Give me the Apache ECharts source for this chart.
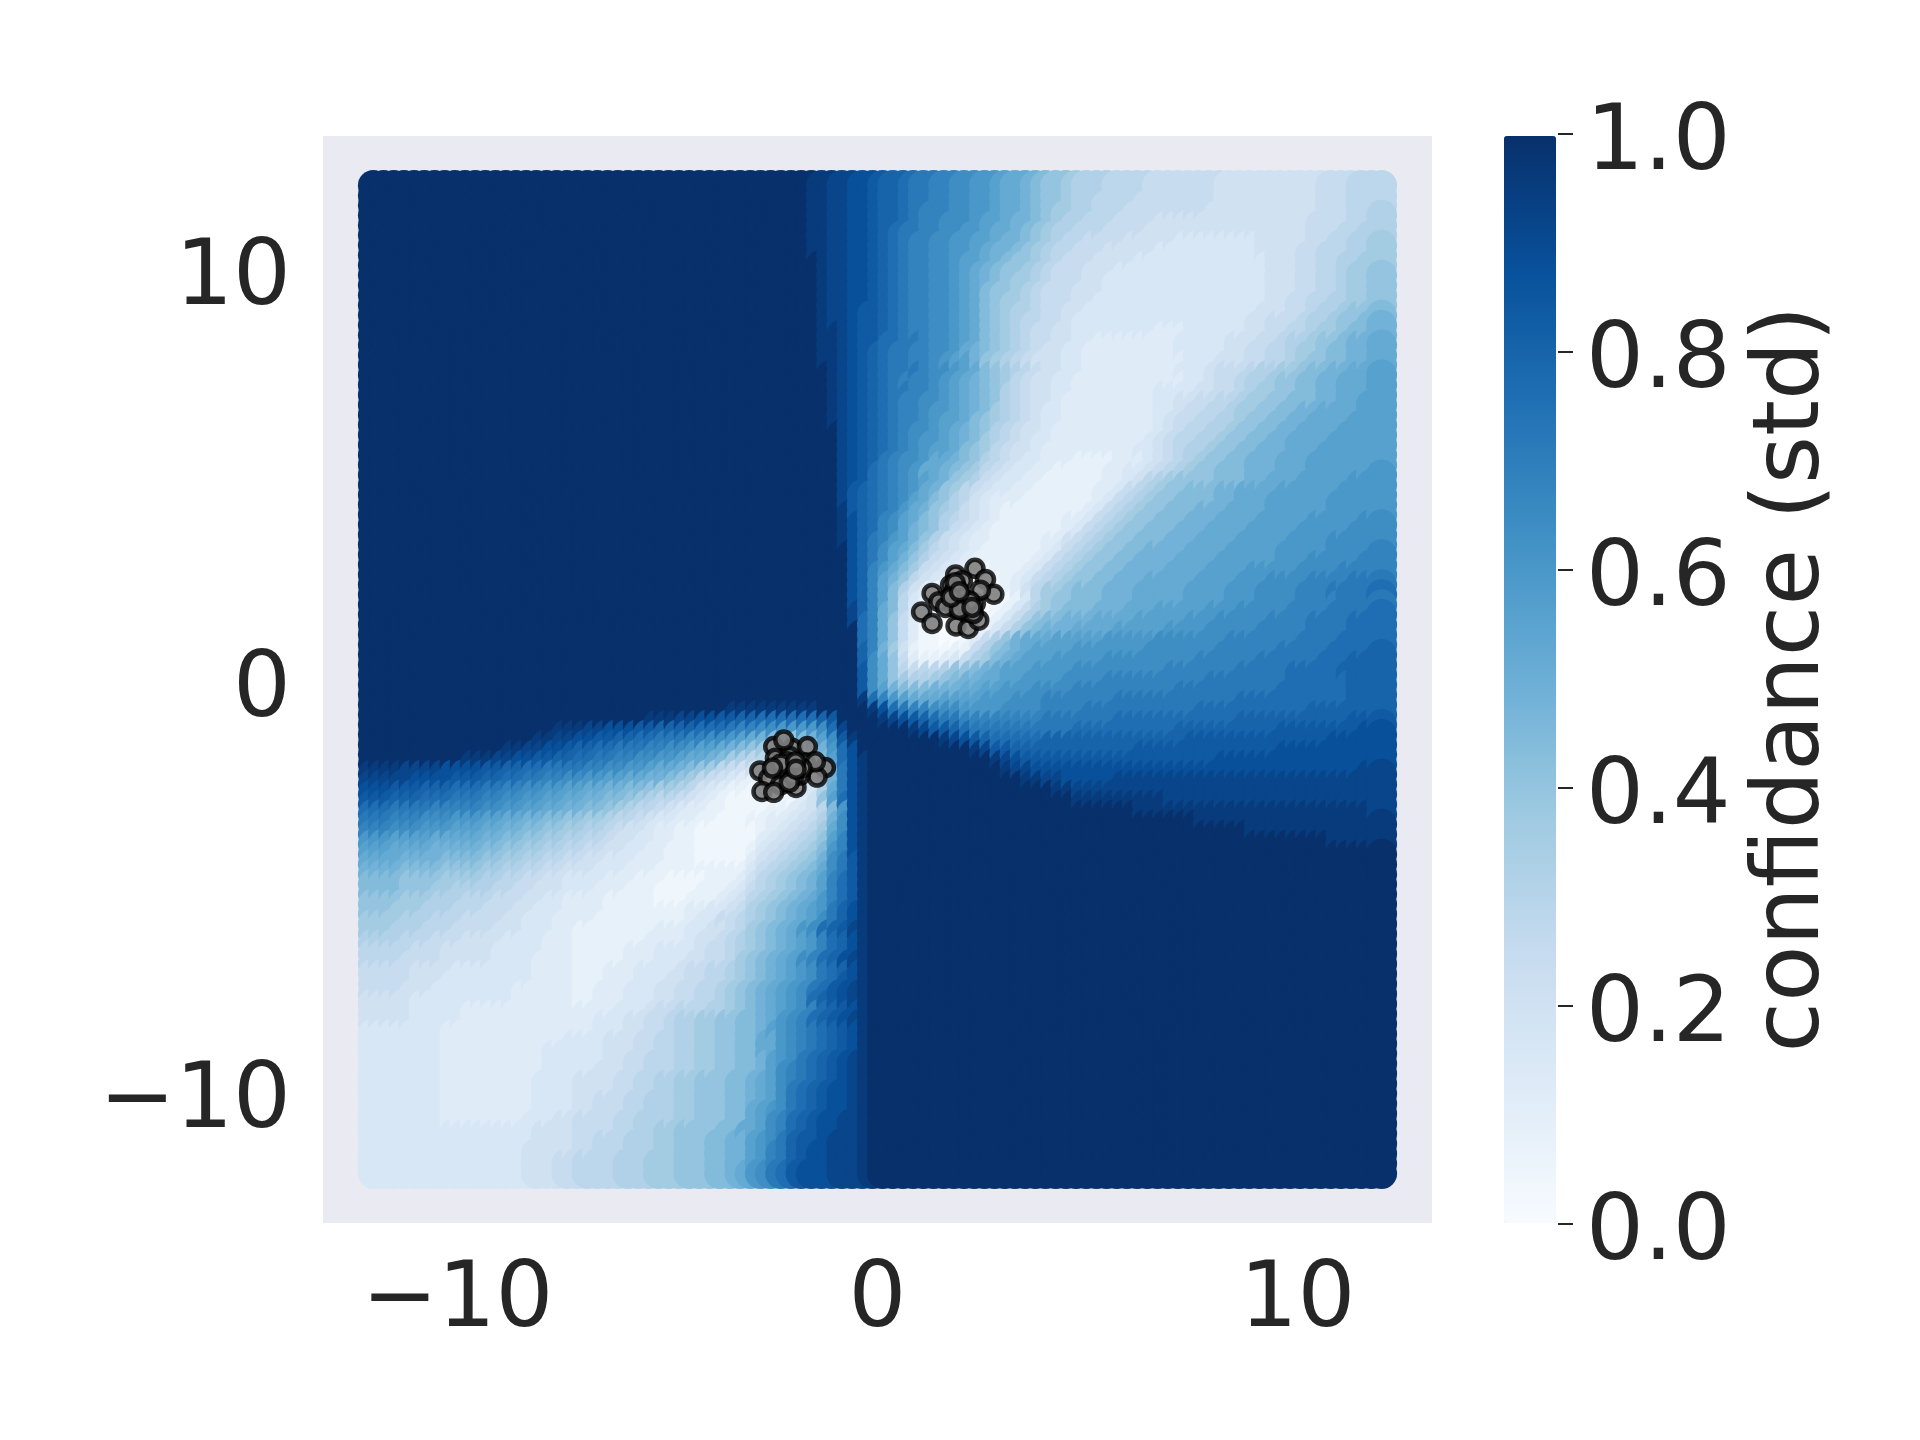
<!DOCTYPE html>
<html>
<head>
<meta charset="utf-8">
<style>html,body{margin:0;padding:0;background:#fff}#c{width:1920px;height:1440px}</style>
<script src="https://cdn.jsdelivr.net/npm/echarts@6/dist/echarts.min.js"></script>
</head>
<body>
<div id="c"></div>
<script>
// Confidence, top row first. Letters a..z stand for 0.00, 0.04 ... 1.00.
const levels = 'abcdefghijklmnopqrstuvwxyz';
const gridMin = -12, gridMax = 12;
const confidenceRows = [
'zzzzzzzzzz zzzzzzzzzz zzzzzzzzzz zzzzzzzzzz zzzyyxxwwv uutssrrqqp ponnmlkkji iihhhhgggg gggfffffff fffggghhhi',
'zzzzzzzzzz zzzzzzzzzz zzzzzzzzzz zzzzzzzzzz zzzyyxxwwv uutssrrqqp ponnmlkkji ihhhhggggg gggfffffff fffggghhhi',
'zzzzzzzzzz zzzzzzzzzz zzzzzzzzzz zzzzzzzzzz zzzyyxxwwv uutsrrrqqp ponnmlkjji ihhhgggggg ggffffffff fffggghhii',
'zzzzzzzzzz zzzzzzzzzz zzzzzzzzzz zzzzzzzzzz zzzyyxxwwv uutsrrqqqp oonmmlkjii hhhggggfff ffffffffff ffgggghhii',
'zzzzzzzzzz zzzzzzzzzz zzzzzzzzzz zzzzzzzzzz zzzyyxxwwv utssrrqqpp onnmlkjiih hhggggffff ffffffffff ffggghhiij',
'zzzzzzzzzz zzzzzzzzzz zzzzzzzzzz zzzzzzzzzz zzzyyxxwwv utsrrqqppo onmmlkjihh ggggfffffe eeeeeeefff ffgghhiijj',
'zzzzzzzzzz zzzzzzzzzz zzzzzzzzzz zzzzzzzzzz zzzyyxxwwv utsrrqqppo nmmlkjihhg ggfffffeee eeeeeeefff fgghhhiijk',
'zzzzzzzzzz zzzzzzzzzz zzzzzzzzzz zzzzzzzzzz zzzzyxxwwv utsrrqqpoo nmlkkjihgg gffffeeeee eeeeeeeeff fgghhiijjk',
'zzzzzzzzzz zzzzzzzzzz zzzzzzzzzz zzzzzzzzzz zzzzyxxwwv utsrrqqpon mlkkjihggg fffeeeeeee eeeeeeeeff fgghhijjkk',
'zzzzzzzzzz zzzzzzzzzz zzzzzzzzzz zzzzzzzzzz zzzzyxxwwv utsrrqqpon mlkjjihggg ffeeeeeeee eeeeeeeeff fgghhijjkl',
'zzzzzzzzzz zzzzzzzzzz zzzzzzzzzz zzzzzzzzzz zzzzyxxwwv utsrrqqpon lkkjihgggf ffeeeeeeee eeeeeeeeff fgghhijjkl',
'zzzzzzzzzz zzzzzzzzzz zzzzzzzzzz zzzzzzzzzz zzzzyxxwwv utsrrqqpon lkjjihgggf feeeeeeeee eeeeeeeeff gghhiijjkl',
'zzzzzzzzzz zzzzzzzzzz zzzzzzzzzz zzzzzzzzzz zzzzyxxwvv utsrrqqpon lkjiihggff eeeeeeeeee eeeeeeefff gghiijkkll',
'zzzzzzzzzz zzzzzzzzzz zzzzzzzzzz zzzzzzzzzz zzzzyxxwvv utsrrqqpon lkjihhggfe eeeeeeeeee eeeeeeffgg ghiijkklmm',
'zzzzzzzzzz zzzzzzzzzz zzzzzzzzzz zzzzzzzzzz zzzzyyxwvv utsrrqqpon lkjihggffe eeeeeeeddd eeeeeeffgg hhijjkllmm',
'zzzzzzzzzz zzzzzzzzzz zzzzzzzzzz zzzzzzzzzz zzzzyyxwvv ttssrqqpon lkjihggffe edddddddde eeeefffggh iijkklmmnn',
'zzzzzzzzzz zzzzzzzzzz zzzzzzzzzz zzzzzzzzzz zzzzyyxwvu tssrrqqpnm lkjihgffee ddddddddde eeeeffgghh ijjkllmmnn',
'zzzzzzzzzz zzzzzzzzzz zzzzzzzzzz zzzzzzzzzz zzzzyyxwvu tssrrqpoom kjihgfffee dddddddddd eeefffgghh ijkkllmmnn',
'zzzzzzzzzz zzzzzzzzzz zzzzzzzzzz zzzzzzzzzz zzzzzyxwvu tsssrqqpon lkjihgffee ddddddddde eefggghiij jkllmmnnoo',
'zzzzzzzzzz zzzzzzzzzz zzzzzzzzzz zzzzzzzzzz zzzzzyxwvu tsrrrqponm lkjhgffeed dddddddddd eefgghiijk kllmmnnnoo',
'zzzzzzzzzz zzzzzzzzzz zzzzzzzzzz zzzzzzzzzz zzzzzyxwvu tssrrqponm lkihgffeed dddddddeee effgghijjk kllmmnnnoo',
'zzzzzzzzzz zzzzzzzzzz zzzzzzzzzz zzzzzzzzzz zzzzzyxwvu tsrrqqponm lkihgffedd dddddddeef fgghhijjkk lllmmnnooo',
'zzzzzzzzzz zzzzzzzzzz zzzzzzzzzz zzzzzzzzzz zzzzzyxwvu tsrrqpponm ljihgfeedd dddddddeef gghhijjkkl lmmnnnnooo',
'zzzzzzzzzz zzzzzzzzzz zzzzzzzzzz zzzzzzzzzz zzzzzyxwvu tsrrqpoonl kjihgfeedd dddddddefg ghhiijkkll mmnnnnoooo',
'zzzzzzzzzz zzzzzzzzzz zzzzzzzzzz zzzzzzzzzz zzzzzzxwvu tsrqqponml kihgffeddd dddddddefg hhiijkkllm mnnnnooooo',
'zzzzzzzzzz zzzzzzzzzz zzzzzzzzzz zzzzzzzzzz zzzzzzxwvu tsrqpponml jihgfeeddd ddddddefgh hiijkkllmm nnnnoooooo',
'zzzzzzzzzz zzzzzzzzzz zzzzzzzzzz zzzzzzzzzz zzzzzzxwvu tsrqpoonlk jhgffedddd dddddeefgh iijkkllmmm nnnooooooo',
'zzzzzzzzzz zzzzzzzzzz zzzzzzzzzz zzzzzzzzzz zzzzzzxwvu srqqpnnmlk ihgfeedddc cccdddefgh ijkkllmmmn nnooooooop',
'zzzzzzzzzz zzzzzzzzzz zzzzzzzzzz zzzzzzzzzz zzzzzzxwvt srqpnnmlkj hgfeeddccc ccddeefghi jkklllmmmn nnoooooopp',
'zzzzzzzzzz zzzzzzzzzz zzzzzzzzzz zzzzzzzzzz zzzzzzxwvt srqponmkji gfeeddcccc ccddefhijk kkklllmmnn nooooopppp',
'zzzzzzzzzz zzzzzzzzzz zzzzzzzzzz zzzzzzzzzz zzzzzzxvut srqpnmkjhg feeddccccc cddeghijkk lllmmnnnno oooooppppp',
'zzzzzzzzzz zzzzzzzzzz zzzzzzzzzz zzzzzzzzzz zzzzzzxvut srqonlkihf edddcccccc cdeghijkkl lllmmnnnoo oooopppppp',
'zzzzzzzzzz zzzzzzzzzz zzzzzzzzzz zzzzzzzzzz zzzzzzyvut srpnmkjigf edcccccccc deghijkkll lmmmnnnnoo oooopppppq',
'zzzzzzzzzz zzzzzzzzzz zzzzzzzzzz zzzzzzzzzz zzzzzzywut rqonlkihgf edccccccdd eghijkklll mmmnnnnooo oopppppqqq',
'zzzzzzzzzz zzzzzzzzzz zzzzzzzzzz zzzzzzzzzz zzzzzzywut rqomlkigfe dcccccccde ghijkklllm mmnnnnoooo opppppqqqq',
'zzzzzzzzzz zzzzzzzzzz zzzzzzzzzz zzzzzzzzzz zzzzzzywus rpomkigfed dcccccddfg hijkklllmm mnnnnooooo ppppqqqqqr',
'zzzzzzzzzz zzzzzzzzzz zzzzzzzzzz zzzzzzzzzz zzzzzzzwus qonljhgfed ccccccdegh ijkkllmmmm nnnnooooop ppppqqqqrr',
'zzzzzzzzzz zzzzzzzzzz zzzzzzzzzz zzzzzzzzzz zzzzzzzwus qomkigfedc cccccdeghi jkkllmmmmn nnnoooooop ppqqqqqrrr',
'zzzzzzzzzz zzzzzzzzzz zzzzzzzzzz zzzzzzzzzz zzzzzzzwur pnljgfedcb bcccdeghij kkllmmmmnn nnoooopppp pqqqqrrrrs',
'zzzzzzzzzz zzzzzzzzzz zzzzzzzzzz zzzzzzzzzz zzzzzzzwur omkhfedcbb bbcdeghijk kllmmmnnnn noooopppqq qqrrrrssss',
'zzzzzzzzzz zzzzzzzzzz zzzzzzzzzz zzzzzzzzzz zzzzzzzwur olifdbbbaa bbcdfhjjkl llmmmnnnnn oooopppqqq qrrrsssstt',
'zzzzzzzzzz zzzzzzzzzz zzzzzzzzzz zzzzzzzzzz zzzzzzzwur olhecbaaaa abbcehjkkl llmmmnnnnn oooopppqqq qrrrrsssst',
'zzzzzzzzzz zzzzzzzzzz zzzzzzzzzz zzzzzzzzzz zzzzzzzxur nlhecbaaaa abcegijkll lmmmnnnooo oopppqqqqq rrrrsssstt',
'zzzzzzzzzz zzzzzzzzzz zzzzzzzzzz zzzzzzzzzz zzzzzzzxtr nkgdbbaaaa bcegikllmm mnnnnooooo pppqqqqqrr rrsssstttu',
'zzzzzzzzzz zzzzzzzzzz zzzzzzzzzz zzzzzzzzzz zzzzzzzztr nkgdbbaaab cegiklmmmn nnnooooopp ppqqqqqrrr rrsssstttu',
'zzzzzzzzzz zzzzzzzzzz zzzzzzzzzz zzzzzzzzzz zzzzzzzztr nkgdbbaabd gikmnnnooo oopppppqqq qqqqrrrrrr rssssttttu',
'zzzzzzzzzz zzzzzzzzzz zzzzzzzzzz zzzzzzzzzz zzzzzzzzur mjfcbbbccg iklmnoooop ppppppqqqq qqqrrrrrrs ssssttttuu',
'zzzzzzzzzz zzzzzzzzzz zzzzzzzzzz zzzzzzzzzz zzzzzzzzuq nkgdccdegi jlmnoooppp ppqqqqqqqq qrrrrrrsss ssstttuuuu',
'zzzzzzzzzz zzzzzzzzzz zzzzzzzzzz zzzzzzzzzz zzzzzzzzvq nkhghhikkl mnoooppppq qqqqqqqqrr rrrrrsssss tttttuuuuu',
'zzzzzzzzzz zzzzzzzzzz zzzzzzzzzz zzzzzzzzzz zzzzzzzzvq nkjiijklmm nnooppppqq qqrrrrrrrr rrssssssss ttttttuuuu',
'zzzzzzzzzz zzzzzzzzzz zzzzzzzzzz zzzzzzzzzz zzzzzzzzvq omlllmmmnn oopppqqqqr rrrrrrrrrs ssssssssst ttttttuuuu',
'zzzzzzzzzz zzzzzzzzzz zzzzzzzzzz zzzzzzzzzz zzzzzzzzyt rponnnoooo pppqqqrrrr rrrsssssss sssssttttt ttttttuuuv',
'zzzzzzzzzz zzzzzzzzzz zzzzzzzzzz zzzzzyyyyy yyyyzzzzzy wtsrrqqqpp ppqqqqrrrr ssssssssss sttttttttt ttuuuuuuuv',
'zzzzzzzzzz zzzzzzzzzz zzzzzzzyyy xxwwvvuutt ttttuvzzzz yxwvutssrr rrrrrrssss sssttttttt tttttuuuuu uuuuuuvvvv',
'zzzzzzzzzz zzzzzzzzyy yxxwwwvvuu uutttsrrqq ppppqtxzzz zzzyxvvuts ssssssssst tttttttttu uuuuuuuuuv vvvvvvvwww',
'zzzzzzzzzz zzzzzzyyxx wwvvuuttss srrqqponml kklmoqvyzz zzzzzzyxwv utttttuuuu uuuuuuuuuu vvvvvvvvvv vvvvwwwwww',
'zzzzzzzzzz zzzyyxxwwv uuttsssrrq qpoonmlkji hhhimptwzz zzzzzzzzzy xvvuuuuuuu uuuuuvvvvv vvvvvvvvvw wwwwwwwwww',
'zzzzzzzzzy yyxxwwvvuu ttssrrqqpp onnmljihhg ffghlotwyz zzzzzzzzzz zyxwvvvvvv vvvvvvvvvv vvvwwwwwww wwwwwwwwww',
'yyyxxxxwww wvvuuttsss srrqqpponn mlkjhgffee ddegknswyz zzzzzzzzzz zzyxxwwwww wwwwwwwwww wwwwwwwwww wwwwwwwxxx',
'xxxxwwwwvv vuuttssrrq qppoonnmml kjhgfedccb bbdfjmswyz zzzzzzzzzz zzzzyyxxww wwwxxxxxxx xxxxxxxxxx xxxxxxxxxx',
'wwvvvuuutt tssrrqqppo onnmmllkjj ihfedccbbb bbceinswyz zzzzzzzzzz zzzzzzzyyx xxxxxxxxxx xxxxxxxxxx xxxxxxxxxx',
'vvuuutttss srrqqppoon nmmllkjihh gfedcbbbbb bbdfkotwyz zzzzzzzzzz zzzzzzzzzy yyyyyyyyxx xxxxxxxxxx xxxxxxxxxx',
'ttssssrrrr rqqppoonnm mllkjihhgf eddccbbbbc cdefhlpwyz zzzzzzzzzz zzzzzzzzzz zzzzzyyyyy yyyyyyyyyy yyyyyyyyxx',
'ssrrrqqqpp poonnmmllk kjjihhgfee ddccbbbccd defgimqwyz zzzzzzzzzz zzzzzzzzzz zzzzzzzzzz zyyyyyyyyy yyyyyyyyyy',
'rrqqqpppoo onnmmllkkj jiihgffedd ccbbbbbbcd efghjnqwyz zzzzzzzzzz zzzzzzzzzz zzzzzzzzzz zzzzzzyyyy yyyyyyyyyy',
'ppoooonnnn nmmllkkjji ihhgffeedd ccbbbbbbde fghikorwyz zzzzzzzzzz zzzzzzzzzz zzzzzzzzzz zzzzzzzzzz zzzzyyyyyy',
'oonnnnmmmm mllkkjjiih hggffeeddc ccbbbbbcef ghijlprwyz zzzzzzzzzz zzzzzzzzzz zzzzzzzzzz zzzzzzzzzz zzzzzzzzzz',
'nnnmmmmlll lkkjjiihhg gffeeedddc ccbbbbbdfg hijkmqsvyz zzzzzzzzzz zzzzzzzzzz zzzzzzzzzz zzzzzzzzzz zzzzzzzzzz',
'mmmllllkkk kjjiihhggf ffeeedddcc cccccccegh ijklnqsvyz zzzzzzzzzz zzzzzzzzzz zzzzzzzzzz zzzzzzzzzz zzzzzzzzzz',
'lllkkkkjjj jiihhggffe eeedddcccb bbbcccdfhi jklmortvyz zzzzzzzzzz zzzzzzzzzz zzzzzzzzzz zzzzzzzzzz zzzzzzzzzz',
'lllkkkjjii iihhggfffe eedddcccbb bbcccdeghi jklmortvyz zzzzzzzzzz zzzzzzzzzz zzzzzzzzzz zzzzzzzzzz zzzzzzzzzz',
'kkkjjjiiih hhgggffeed dddcccccbb bcccdefhij klmnprtvyz zzzzzzzzzz zzzzzzzzzz zzzzzzzzzz zzzzzzzzzz zzzzzzzzzz',
'kkjjjiiihh hgggffeeed dddccccccc cddeefgijk lmnopsuwyz zzzzzzzzzz zzzzzzzzzz zzzzzzzzzz zzzzzzzzzz zzzzzzzzzz',
'jjjiiihhhg gggffeeedd ddcccccccc cdeegghijk lmnoqsuwyz zzzzzzzzzz zzzzzzzzzz zzzzzzzzzz zzzzzzzzzz zzzzzzzzzz',
'jjiiihhhgg ggfffeeedd ccccccccdd deeffghjkl mnpqtuvxyz zzzzzzzzzz zzzzzzzzzz zzzzzzzzzz zzzzzzzzzz zzzzzzzzzz',
'iiihhhgggf fffeeeeddd cccccccddd deffghijkl mnoprtuwyz zzzzzzzzzz zzzzzzzzzz zzzzzzzzzz zzzzzzzzzz zzzzzzzzzz',
'hhhhgggfff ffeeeeeddd cccccdddee eefgghijkl mnoprtuwyz zzzzzzzzzz zzzzzzzzzz zzzzzzzzzz zzzzzzzzzz zzzzzzzzzz',
'hhhggggfff ffeeeedddd cccccdddee effgghjklm noqrtuwxyz zzzzzzzzzz zzzzzzzzzz zzzzzzzzzz zzzzzzzzzz zzzzzzzzzz',
'ggggffffee eeeeeedddd cccdddeeee fgghhijklm nopqstuwyz zzzzzzzzzz zzzzzzzzzz zzzzzzzzzz zzzzzzzzzz zzzzzzzzzz',
'ggggfffeee eeeeeedddd cccdddeeef fgghhijklm nopqstvwyz zzzzzzzzzz zzzzzzzzzz zzzzzzzzzz zzzzzzzzzz zzzzzzzzzz',
'gggfffeeee eeeedddddd ccdddeeeff gghhijklmn opqstvwxyz zzzzzzzzzz zzzzzzzzzz zzzzzzzzzz zzzzzzzzzz zzzzzzzzzz',
'ffffeeeeee eeeedddddd ccdddeeeff gghhijklmn opqtuvwxyz zzzzzzzzzz zzzzzzzzzz zzzzzzzzzz zzzzzzzzzz zzzzzzzzzz',
'ffffeeeeed dddddddddd ddddeeefgg hhhiijklmn opqrtuvwyz zzzzzzzzzz zzzzzzzzzz zzzzzzzzzz zzzzzzzzzz zzzzzzzzzz',
'ffffeeeeed dddddddddd ddeeeffggh iijjkkllmn pqrtuvwxyz zzzzzzzzzz zzzzzzzzzz zzzzzzzzzz zzzzzzzzzz zzzzzzzzzz',
'eeeeeeeddd dddddddddd ddeeeffggh iijjkkllmo pqrstuvwyz zzzzzzzzzz zzzzzzzzzz zzzzzzzzzz zzzzzzzzzz zzzzzzzzzz',
'eeeeeeeddd ddddddddde eeefffgghh iijjkkllnn pqrstuvwyz zzzzzzzzzz zzzzzzzzzz zzzzzzzzzz zzzzzzzzzz zzzzzzzzzz',
'eeeeeeeddd dddddddeee eeefffgghh iijjkkllnn pqrstuvwyz zzzzzzzzzz zzzzzzzzzz zzzzzzzzzz zzzzzzzzzz zzzzzzzzzz',
'eeeeeeeddd dddddddeee eeeffgghhh iijjkkllmo pqstuvwxyz zzzzzzzzzz zzzzzzzzzz zzzzzzzzzz zzzzzzzzzz zzzzzzzzzz',
'eeeeeeeddd dddddddeee eefffgghhh iijjkkllmo qrstuvwxyz zzzzzzzzzz zzzzzzzzzz zzzzzzzzzz zzzzzzzzzz zzzzzzzzzz',
'eeeeeeeddd ddddddeeee ffffgghhii jjkkkllmno qrstuvwxyz zzzzzzzzzz zzzzzzzzzz zzzzzzzzzz zzzzzzzzzz zzzzzzzzzz',
'eeeeeeeddd ddddddeeee ffffgghhii jjkkkllmno qstuvwwxyz zzzzzzzzzz zzzzzzzzzz zzzzzzzzzz zzzzzzzzzz zzzzzzzzzz',
'eeeeeeeddd ddddddeeee ffggghhiii jjkkkllmno qstuvwwxyz zzzzzzzzzz zzzzzzzzzz zzzzzzzzzz zzzzzzzzzz zzzzzzzzzz',
'eeeeeeeddd ddddddeeee ffggghhiii jjkkkllnop qstuvwwxyz zzzzzzzzzz zzzzzzzzzz zzzzzzzzzz zzzzzzzzzz zzzzzzzzzz',
'eeeeeeeddd dddddeeeff gggghhiiii jjkkkllnoq rtuvwwxxyz zzzzzzzzzz zzzzzzzzzz zzzzzzzzzz zzzzzzzzzz zzzzzzzzzz',
'eeeeeeeeee eeeeeeffff gggghhiijj kkkkllnnoq rtuvwwxxyz zzzzzzzzzz zzzzzzzzzz zzzzzzzzzz zzzzzzzzzz zzzzzzzzzz',
'eeeeeeeeee eeeeeeffff gghhhiiijj kkkllmmopq suvvwxxxyz zzzzzzzzzz zzzzzzzzzz zzzzzzzzzz zzzzzzzzzz zzzzzzzzzz',
'eeeeeeeeee eeeeefffff gghhhiiijj kkkllmmopr suvwwxxxyz zzzzzzzzzz zzzzzzzzzz zzzzzzzzzz zzzzzzzzzz zzzzzzzzzz',
'eeeeeeeeee eeeeefffgg hhhhiiijjj kkkllmmopr suvwwxxxyz zzzzzzzzzz zzzzzzzzzz zzzzzzzzzz zzzzzzzzzz zzzzzzzzzz',
'eeeeeeeeee eeeeefffgg hhhhiiijjj kkkllmnpqs tvwwwxxxyz zzzzzzzzzz zzzzzzzzzz zzzzzzzzzz zzzzzzzzzz zzzzzzzzzz',
'ffeeeeeeee eeeeefffgg hhhiiijjjj kkllmmoqrs uvwwxxxxyz zzzzzzzzzz zzzzzzzzzz zzzzzzzzzz zzzzzzzzzz zzzzzzzzzz'
];

// Training points.
const clusterX = [2.32,2.57,2.77,1.30,1.05,1.30,1.87,2.16,2.41,2.17,2.33,1.86,1.74,1.66,1.46,2.45,1.92,1.83,2.28,1.62,2.02,1.80,2.05,
  1.90,2.00,2.10,1.85,2.20,1.95,2.25,1.75,1.95,
  -2.47,-2.03,-1.67,-2.43,-2.09,-1.71,-2.80,-2.59,-1.24,-1.44,-2.23,-1.94,-2.31,-2.75,-2.47,-1.48,-1.84,-2.23,
  -2.15,-2.00,-2.30,-1.80,-2.10,-2.50,-1.95,-1.94];
const clusterY = [2.70,2.43,2.07,2.09,1.64,1.36,1.30,1.24,1.44,1.65,1.85,2.54,2.29,1.93,1.89,2.17,1.85,1.75,1.60,1.75,2.40,2.10,1.95,
  2.20,2.00,1.80,2.35,1.90,1.70,1.75,2.00,2.13,
  -1.63,-1.67,-1.63,-1.91,-1.87,-2.03,-2.22,-2.40,-2.14,-2.37,-2.20,-2.62,-2.56,-2.72,-2.74,-2.00,-2.32,-1.47,
  -2.00,-2.35,-2.05,-2.15,-2.50,-2.15,-2.00,-2.18];

const mainTicks = [-10, 0, 10];
const barTicks = [0, 0.2, 0.4, 0.6, 0.8, 1.0];
const blues = ['#f7fbff','#deebf7','#c6dbef','#9ecae1','#6baed6','#4292c6','#2171b5','#08519c','#08306b'];

const rows = confidenceRows.map(r => r.replace(/ /g, ''));
const n = rows.length;
const fieldData = [];
// Each dot is overlapped by the next column and row, so only its upper-left crescent shows:
// a colour read at one place in the picture belongs to the dot one cell down and to the right.
for (let c = 0; c < n; c++) {
  for (let r = 0; r < n; r++) {
    const x = gridMin + (gridMax - gridMin) * c / (n - 1);
    const y = gridMax - (gridMax - gridMin) * r / (n - 1);
    const read = rows[Math.max(r - 1, 0)][Math.max(c - 1, 0)];
    fieldData.push([x, y, levels.indexOf(read) / 25]);
  }
}
const clusterData = clusterX.map((x, i) => [x, clusterY[i]]);

const ink = '#262626';
const font = 'DejaVu Sans';
const tickFont = 91;
const fmt = v => String(v).replace('-', '\u2212');

const chart = echarts.init(document.getElementById('c'), null, {renderer: 'canvas'});
chart.setOption({
  animation: false,
  backgroundColor: '#ffffff',
  textStyle: {fontFamily: font},
  tooltip: {show: false},
  grid: [
    {left: 323, top: 136, width: 1109, height: 1087, show: true, backgroundColor: '#eaeaf2', borderWidth: 0},
    {left: 1504, top: 134, width: 52, height: 1090, show: false}
  ],
  xAxis: [
    {gridIndex: 0, type: 'value', min: -13.2, max: 13.2,
     axisLine: {show: false, onZero: false}, axisTick: {show: false}, splitLine: {show: false},
     axisLabel: {customValues: mainTicks, formatter: fmt, color: ink, fontFamily: font, fontSize: tickFont, margin: 34}},
    {gridIndex: 1, type: 'value', min: 0, max: 1, show: false}
  ],
  yAxis: [
    {gridIndex: 0, type: 'value', min: -13.2, max: 13.2,
     axisLine: {show: false, onZero: false}, axisTick: {show: false}, splitLine: {show: false},
     axisLabel: {customValues: mainTicks, formatter: fmt, color: ink, fontFamily: font, fontSize: tickFont, margin: 32,
       verticalAlign: 'top', lineHeight: 25}},
    {gridIndex: 1, type: 'value', position: 'right', min: 0, max: 1, interval: 0.2, offset: 2,
     axisLine: {show: false, onZero: false}, splitLine: {show: false},
     axisTick: {show: true, length: 15, lineStyle: {color: ink, width: 2}},
     axisLabel: {formatter: v => v.toFixed(1), color: ink, fontFamily: font, fontSize: tickFont, margin: 28,
       verticalAlign: 'top', lineHeight: 22, customValues: barTicks},
     name: 'confidance (std)', nameLocation: 'middle', nameRotate: 90, nameGap: 190, nameMoveOverlap: false,
     nameTextStyle: {color: ink, fontFamily: font, fontSize: 92}}
  ],
  visualMap: {
    type: 'continuous', seriesIndex: 0, dimension: 2, min: 0, max: 1,
    left: 1504, top: 136, itemWidth: 52, itemHeight: 1087, padding: 0,
    calculable: false, realtime: false, hoverLink: false, text: ['', ''], textGap: 0,
    inRange: {color: blues}
  },
  series: [
    {type: 'scatter', xAxisIndex: 0, yAxisIndex: 0, data: fieldData, symbol: 'circle', symbolSize: 31,
     silent: true, large: false, progressive: 0, clip: false, z: 2, itemStyle: {opacity: 1, borderWidth: 0}},
    {type: 'scatter', xAxisIndex: 0, yAxisIndex: 0, data: clusterData, symbol: 'circle', symbolSize: 17,
     silent: true, clip: false, z: 3,
     itemStyle: {color: 'rgba(128,128,128,0.9)', borderColor: 'rgba(0,0,0,0.8)', borderWidth: 4.5, opacity: 1}}
  ]
});
</script>
</body>
</html>
